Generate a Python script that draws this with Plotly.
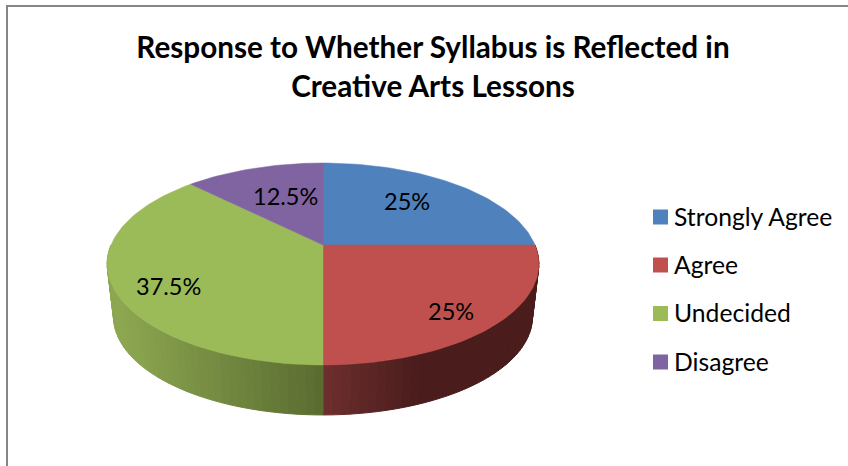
import math
import plotly.graph_objects as go

# Data
categories = ["Strongly Agree", "Agree", "Undecided", "Disagree"]
shares = [25, 25, 37.5, 12.5]
share_labels = ["25%", "25%", "37.5%", "12.5%"]
title_text = "Response to Whether Syllabus is Reflected in<br>Creative Arts Lessons"

# Style
top_colors = ["#4F81BD", "#C0504D", "#9BBB59", "#8064A2"]
label_pos = [(407, 201), (451, 311), (168, 286), (285, 196)]
key_x = 660.5
key_text_x = 671.5
key_y = [217, 265, 313.5, 362]
legend_font = 24.7
W, H = 848, 466
CX, CY, A, B, C = 323, 245, 97.4, 212.0, 0.188
BOTTOM_SCALE, BOTTOM_SHIFT = 0.97, 53.6


def project(theta, scale=1.0, shift=0.0):
    """Perspective projection of a clockwise-from-top disc angle (degrees)."""
    u, v = math.sin(math.radians(theta)), math.cos(math.radians(theta))
    d = 1 + C * v
    return CX + scale * B * u / d, CY + shift + scale * -A * v / d


def lerp_hex(c1, c2, t):
    t = max(0.0, min(1.0, t))
    a = [int(c1[i:i + 2], 16) for i in (1, 3, 5)]
    b = [int(c2[i:i + 2], 16) for i in (1, 3, 5)]
    return "#%02x%02x%02x" % tuple(round(p + (q - p) * t) for p, q in zip(a, b))


def side_color(i, x):
    if i == 1:  # red side
        return lerp_hex("#6E2E2E", "#4A1C1C", (x - CX) / 95)
    return lerp_hex("#5A6B30", "#8CA750", (CX - x) / 205)


fig = go.Figure()

# Slice boundaries as clockwise angles
edges = [0.0]
for s in shares:
    edges.append(edges[-1] + s / sum(shares) * 360)

# Side wall: only the slices facing the viewer
for i in range(len(shares)):
    lo, hi = edges[i], edges[i + 1]
    lo, hi = max(lo, 90.0), min(hi, 270.0)
    if hi <= lo:
        continue
    n = max(4, int((hi - lo) / 2))
    for k in range(n):
        t0 = lo + (hi - lo) * k / n
        t1 = lo + (hi - lo) * (k + 1) / n
        p0, p1 = project(t0), project(t1)
        q0, q1 = project(t0, BOTTOM_SCALE, BOTTOM_SHIFT), project(t1, BOTTOM_SCALE, BOTTOM_SHIFT)
        col = side_color(i, (p0[0] + p1[0]) / 2)
        fig.add_trace(go.Scatter(
            x=[p0[0], p1[0], q1[0], q0[0], p0[0]],
            y=[p0[1], p1[1], q1[1], q0[1], p0[1]],
            mode="lines", fill="toself", fillcolor=col,
            line=dict(color=col, width=1),
            showlegend=False, hoverinfo="skip",
        ))

# Top face
for i, name in enumerate(categories):
    lo, hi = edges[i], edges[i + 1]
    n = int((hi - lo) / 1.5) + 1
    pts = [project(lo + (hi - lo) * k / n) for k in range(n + 1)]
    fig.add_trace(go.Scatter(
        x=[CX] + [p[0] for p in pts] + [CX],
        y=[CY] + [p[1] for p in pts] + [CY],
        mode="lines", fill="toself", fillcolor=top_colors[i],
        line=dict(color=top_colors[i], width=0.5),
        name=name, showlegend=False, hoverinfo="name",
    ))

# Legend key swatches
for i, name in enumerate(categories):
    fig.add_trace(go.Scatter(
        x=[key_x], y=[key_y[i]], mode="markers", name=name, showlegend=False,
        hoverinfo="skip",
        marker=dict(symbol="square", size=15, color=top_colors[i]),
    ))

annotations = [
    dict(x=x, y=y, text=t, showarrow=False, xref="x", yref="y",
         font=dict(family="Lato", size=23.5, color="black"))
    for (x, y), t in zip(label_pos, share_labels)
]
annotations += [
    dict(x=key_text_x, y=y - 1, text=t, showarrow=False, xref="x", yref="y", xanchor="left",
         font=dict(family="Lato", size=legend_font, color="black"))
    for y, t in zip(key_y, categories)
]

shapes = [
    dict(type="line", xref="x", yref="y", x0=7, x1=7, y0=6, y1=H, line=dict(color="#868686", width=2)),
    dict(type="line", xref="x", yref="y", x0=6, x1=W, y0=6, y1=6, line=dict(color="#868686", width=2)),
]

fig.update_layout(
    width=W, height=H, autosize=False,
    margin=dict(l=0, r=0, t=0, b=0),
    paper_bgcolor="white", plot_bgcolor="white",
    showlegend=False,
    title=dict(text=title_text, x=433 / W, xanchor="center", y=1 - 58 / H, yanchor="top",
               font=dict(family="Lato", size=29.7, color="black", weight="bold")),
    xaxis=dict(range=[0, W], visible=False, fixedrange=True),
    yaxis=dict(range=[H, 0], visible=False, fixedrange=True),
    annotations=annotations, shapes=shapes,
)
fig.write_html("out.html", config=dict(displayModeBar=False),
               post_script="document.body.style.margin='0';")
